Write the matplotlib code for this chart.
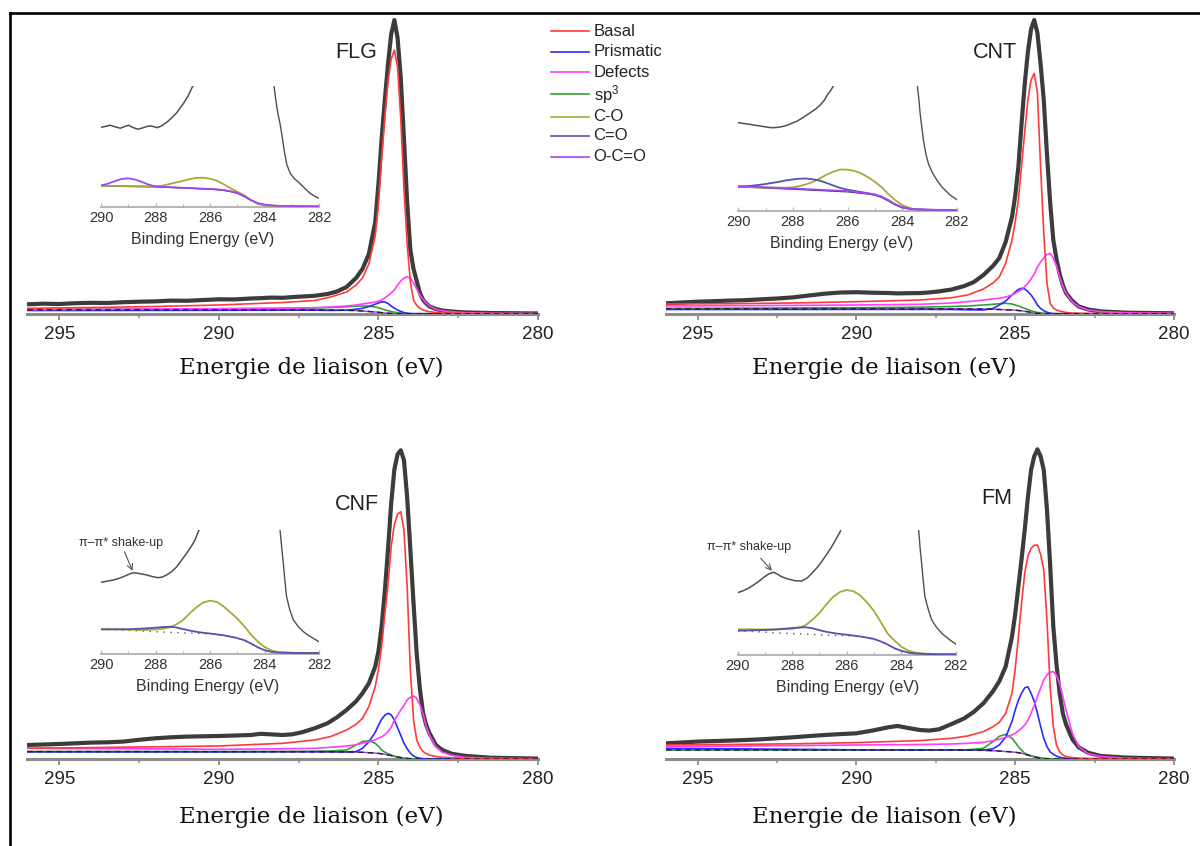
import matplotlib
matplotlib.use('Agg')
import matplotlib.pyplot as plt
from matplotlib.lines import Line2D

plt.rcParams['font.family'] = ['Liberation Sans', 'DejaVu Sans']
plt.rcParams['mathtext.default'] = 'regular'

# ---------------- data (intensities in arbitrary units) ----------------
# main panels: binding-energy grid for the envelope (measured spectrum)
E_env = [296, 295.5, 295, 294.5, 294, 293.5, 293, 292.5, 292, 291.5, 291, 290.5, 290, 289.5, 289,
         288.7, 288.4, 288, 287.7, 287.4, 287, 286.6, 286.3, 286, 285.7, 285.5, 285.3, 285.1, 285.0,
         284.9, 284.8, 284.7, 284.6, 284.5, 284.4, 284.3, 284.2, 284.1, 284.0, 283.9, 283.8, 283.7,
         283.6, 283.5, 283.4, 283.2, 283.0, 282.7, 282.3, 281.5, 280]
# binding-energy grid for the fitted components
E_comp = [296, 294, 292, 290, 288, 287, 286.5, 286, 285.7, 285.5, 285.3, 285.1, 285.0, 284.9, 284.8,
          284.7, 284.6, 284.5, 284.4, 284.3, 284.2, 284.1, 284.0, 283.9, 283.8, 283.7, 283.6, 283.5,
          283.4, 283.2, 283.0, 282.7, 282.3, 281.5, 280]

flg_env = [9.7, 10.3, 10.0, 10.8, 11.2, 11.0, 11.8, 12.3, 12.6, 13.4, 13.2, 14.0, 14.7, 14.6, 15.5,
           15.8, 16.4, 16.2, 16.9, 17.5, 18.2, 20.0, 22.5, 27.0, 36.0, 45.0, 60.0, 92.0, 130.0,
           175.0, 214.0, 250.0, 280.0, 294.0, 276.0, 236.0, 175.0, 112.0, 64.0, 45.0, 33.0, 21.0,
           14.0, 10.5, 7.5, 5.0, 3.5, 2.5, 1.6, 1.0, 0.5]
flg_basal = [5.7, 6.5, 7.5, 9.0, 11.5, 13.5, 17.0, 22.0, 29.0, 36.0, 50.0, 78.0, 110.0, 155.0, 197.0,
             232.0, 255.0, 264.0, 247.0, 195.0, 125.0, 70.0, 32.0, 14.0, 8.5, 5.7, 4.0, 3.0,
             2.3, 1.5, 1.0, 0.8, 0.6, 0.4, 0.3]
flg_prism = [3.5, 3.5, 3.6, 3.7, 3.8, 3.8, 3.6, 3.8, 4.8, 5.7, 7.5, 9.8, 11.0, 12.2, 12.0,
             10.5, 8.0, 5.8, 4.0, 2.6, 1.4, 0.8, 0.4, 0.3, 0.3, 0.3, 0.3, 0.3,
             0.3, 0.3, 0.3, 0.3, 0.3, 0.3, 0.3]
flg_defect = [4.5, 4.7, 5.0, 5.3, 5.8, 6.3, 7.0, 8.0, 9.0, 10.0, 11.0, 12.0, 12.8, 14.0, 16.0,
              18.5, 21.0, 24.0, 29.0, 33.0, 36.0, 37.3, 36.0, 31.0, 25.0, 19.0, 14.5, 10.7,
              8.0, 4.7, 3.2, 2.2, 1.3, 0.7, 0.4]
flg_sp3 = [4.7, 4.8, 5.0, 5.2, 5.6, 6.0, 6.5, 7.2, 7.8, 8.0, 7.8, 7.0, 6.2, 5.2, 4.2,
           3.3, 2.5, 1.8, 1.3, 0.9, 0.6, 0.4, 0.3, 0.3, 0.3, 0.3, 0.3, 0.3,
           0.3, 0.3, 0.3, 0.3, 0.3, 0.3, 0.3]
flg_bg = [4.2, 4.2, 4.2, 4.2, 4.1, 4.0, 3.9, 3.7, 3.4, 3.0, 2.5, 2.0, 1.7, 1.4, 1.1,
          0.8, 0.6, 0.4, 0.3, 0.2, 0.2, 0.2, 0.2, 0.2, 0.2, 0.2, 0.2, 0.2,
          0.2, 0.2, 0.2, 0.2, 0.2, 0.2, 0.2]

cnt_env = [10.7, 11.5, 12.3, 12.8, 13.4, 13.8, 14.7, 15.5, 16.6, 18.5, 20.3, 21.5, 21.8, 21.3, 21.0,
           20.6, 20.8, 20.9, 21.6, 22.6, 24.5, 28.0, 32.0, 39.0, 48.0, 56.0, 72.0, 97.0, 118.0,
           147.0, 190.0, 230.0, 262.0, 285.0, 294.0, 281.0, 250.0, 214.0, 160.0, 112.0, 74.0, 55.0,
           40.0, 29.0, 21.0, 13.0, 7.5, 4.5, 2.6, 1.3, 0.7]
cnt_basal = [10.0, 10.3, 11.0, 12.3, 14.0, 16.3, 19.0, 25.0, 31.0, 37.0, 50.7, 74.0, 92.0, 114.0, 148.0,
             182.0, 214.0, 234.0, 240.7, 221.0, 147.0, 81.0, 31.0, 10.7, 6.0, 4.0, 3.0, 2.2,
             1.5, 1.0, 0.7, 0.5, 0.4, 0.3, 0.3]
cnt_prism = [4.5, 4.5, 4.5, 4.6, 4.6, 4.5, 4.2, 4.0, 5.5, 9.0, 13.0, 19.0, 22.0, 24.5, 25.7,
             25.0, 22.5, 19.0, 14.5, 9.0, 5.5, 3.3, 1.8, 0.8, 0.4, 0.3, 0.3, 0.3,
             0.3, 0.3, 0.3, 0.3, 0.3, 0.3, 0.3]
cnt_defect = [8.0, 8.3, 8.6, 9.0, 9.7, 11.0, 12.3, 14.0, 15.0, 15.7, 17.0, 19.0, 20.7, 22.5, 24.5,
              27.5, 30.7, 35.0, 40.0, 47.0, 52.0, 56.0, 59.5, 60.7, 56.0, 48.0, 37.0, 28.0,
              20.7, 12.0, 7.3, 4.0, 2.3, 1.2, 0.6]
cnt_sp3 = [5.7, 5.8, 6.0, 6.3, 6.8, 7.5, 8.0, 9.0, 9.7, 10.3, 10.7, 10.0, 9.0, 8.0, 6.8,
           5.7, 4.5, 3.3, 2.3, 1.6, 1.1, 0.8, 0.6, 0.5, 0.4, 0.3, 0.3, 0.3,
           0.3, 0.3, 0.3, 0.3, 0.3, 0.3, 0.3]
cnt_bg = [5.2, 5.2, 5.2, 5.2, 5.1, 5.1, 5.0, 5.0, 4.8, 4.5, 4.2, 4.0, 3.8, 3.5, 3.2,
          2.7, 2.2, 1.6, 1.1, 0.7, 0.5, 0.3, 0.2, 0.2, 0.2, 0.2, 0.2, 0.2,
          0.2, 0.2, 0.2, 0.2, 0.2, 0.2, 0.2]

cnf_env = [14.3, 14.8, 15.3, 16.0, 16.7, 17.0, 17.7, 19.5, 21.0, 22.0, 22.7, 23.0, 23.3, 23.8, 24.3,
           25.5, 25.0, 24.3, 25.0, 27.0, 31.0, 36.0, 42.0, 49.3, 58.0, 66.0, 76.0, 92.7, 108.0,
           133.0, 168.0, 210.0, 256.0, 290.0, 305.0, 309.0, 299.0, 262.0, 210.0, 156.0, 105.0, 70.0,
           46.0, 34.0, 26.0, 14.3, 9.3, 5.5, 3.5, 1.6, 0.7]
cnf_basal = [11.0, 11.7, 12.5, 13.3, 16.0, 19.3, 22.7, 29.3, 35.0, 41.0, 52.7, 72.7, 90.0, 112.7, 145.0,
             175.0, 212.7, 235.0, 245.0, 247.7, 229.0, 172.7, 89.0, 39.3, 19.3, 12.0, 7.7, 5.5,
             4.2, 2.8, 2.0, 1.4, 1.0, 0.6, 0.3]
cnf_prism = [7.5, 7.5, 7.5, 7.5, 7.6, 7.6, 7.5, 7.3, 7.7, 11.0, 17.5, 27.0, 34.0, 40.0, 44.0,
             46.0, 44.5, 39.3, 31.5, 24.0, 16.0, 10.5, 6.2, 3.3, 1.8, 1.0, 0.6, 0.3,
             0.3, 0.3, 0.3, 0.3, 0.3, 0.3, 0.3]
cnf_defect = [11.0, 10.7, 10.4, 10.0, 10.5, 11.0, 12.0, 13.3, 14.5, 16.0, 17.7, 19.5, 21.0, 22.5, 24.5,
              27.7, 32.0, 39.3, 44.0, 49.3, 54.0, 59.3, 62.0, 63.3, 61.0, 54.3, 45.0, 32.7,
              24.0, 12.5, 7.0, 4.0, 2.0, 1.0, 0.5]
cnf_sp3 = [7.7, 7.7, 7.7, 7.7, 7.8, 8.0, 8.3, 9.3, 14.3, 17.8, 18.5, 16.0, 13.0, 9.3, 7.2,
           5.5, 4.3, 3.2, 2.3, 1.7, 1.2, 0.9, 0.7, 0.5, 0.4, 0.3, 0.3, 0.3,
           0.3, 0.3, 0.3, 0.3, 0.3, 0.3, 0.3]
cnf_bg = [7.7, 7.7, 7.7, 7.6, 7.6, 7.5, 7.5, 7.4, 7.2, 7.0, 6.6, 6.2, 5.9, 5.5, 5.0,
          4.4, 3.7, 3.0, 2.3, 1.6, 1.1, 0.7, 0.5, 0.3, 0.3, 0.3, 0.3, 0.3,
          0.3, 0.3, 0.3, 0.3, 0.3, 0.3, 0.3]

fm_env = [16.0, 16.8, 17.7, 18.2, 18.7, 19.3, 20.0, 21.0, 22.0, 23.2, 24.3, 25.2, 26.0, 28.7, 32.0,
          33.3, 31.5, 29.3, 28.7, 30.0, 35.3, 41.0, 47.5, 56.0, 68.0, 78.0, 92.7, 122.7, 145.0,
          172.7, 200.0, 229.3, 262.0, 289.3, 303.0, 310.0, 303.0, 289.3, 250.0, 195.0, 132.7, 95.0,
          66.0, 46.0, 35.0, 20.0, 12.0, 6.5, 3.3, 1.7, 0.7]
fm_basal = [14.3, 14.8, 15.5, 16.7, 18.7, 21.0, 23.3, 27.7, 32.5, 37.0, 46.0, 66.0, 90.0, 122.0, 156.0,
            186.0, 203.0, 211.0, 214.0, 214.3, 205.0, 189.3, 139.3, 72.7, 32.7, 14.3, 7.5, 4.3,
            2.8, 1.7, 1.2, 0.8, 0.6, 0.4, 0.3]
fm_prism = [11.0, 10.5, 10.0, 9.5, 9.3, 9.3, 9.3, 9.3, 10.5, 14.3, 22.0, 38.0, 49.3, 59.0, 66.0,
            71.5, 72.5, 66.0, 58.0, 46.0, 33.0, 21.0, 12.7, 7.5, 5.0, 3.2, 2.0, 1.4,
            1.0, 0.7, 0.4, 0.3, 0.3, 0.3, 0.3]
fm_defect = [12.7, 13.2, 13.7, 14.3, 14.8, 15.3, 16.0, 17.0, 18.5, 20.0, 22.0, 24.5, 26.0, 28.5, 31.0,
             34.3, 39.0, 46.0, 54.0, 62.7, 71.0, 79.3, 84.5, 87.0, 87.7, 84.0, 76.0, 63.0,
             49.3, 26.0, 12.7, 5.5, 2.7, 1.0, 0.3]
fm_sp3 = [9.3, 9.3, 9.3, 9.3, 9.3, 9.3, 9.5, 11.0, 17.7, 23.0, 25.0, 21.0, 17.0, 12.7, 9.0,
          6.0, 4.5, 3.5, 2.7, 2.0, 1.4, 1.0, 0.7, 0.5, 0.3, 0.3, 0.3, 0.3,
          0.3, 0.3, 0.3, 0.3, 0.3, 0.3, 0.3]
fm_bg = [9.3, 9.3, 9.3, 9.3, 9.2, 9.1, 9.1, 9.0, 8.6, 8.2, 7.8, 7.3, 7.0, 6.6, 6.0,
         5.2, 4.3, 3.3, 2.4, 1.7, 1.1, 0.7, 0.5, 0.3, 0.3, 0.3, 0.3, 0.3,
         0.3, 0.3, 0.3, 0.3, 0.3, 0.3, 0.3]

# insets: component grid
E_ins = [290, 289.75, 289.5, 289.25, 289, 288.75, 288.5, 288.25, 288, 287.75, 287.5, 287.25, 287,
         286.75, 286.5, 286.25, 286, 285.75, 285.5, 285.25, 285, 284.75, 284.5, 284.25, 284,
         283.75, 283.5, 283, 282.5, 282]

flg_i_bg = [21.0, 20.9, 20.8, 20.6, 20.4, 20.3, 20.2, 20.1, 20.0, 19.7, 19.4, 19.1, 18.8, 18.5, 18.2,
            17.9, 17.6, 17.2, 16.5, 15.3, 13.6, 10.5, 6.5, 3.5, 1.9, 1.2, 0.8, 0.5, 0.3, 0.2]
flg_i_oco = [21.2, 23.0, 25.5, 27.6, 28.4, 27.2, 24.8, 22.0, 20.4, 19.8, 19.5, 19.2, 18.9, 18.6, 18.3,
             18.0, 17.7, 17.3, 16.6, 15.4, 13.7, 10.6, 6.6, 3.6, 2.0, 1.3, 0.9, 0.6, 0.4, 0.3]
flg_i_co = [21.0, 20.9, 20.8, 20.6, 20.4, 20.3, 20.2, 20.1, 20.2, 21.0, 22.6, 24.2, 25.7, 27.5, 28.8,
            29.0, 28.0, 26.0, 22.5, 18.5, 15.0, 11.5, 6.8, 2.8, 1.4, 0.9, 0.6, 0.4, 0.3, 0.2]
flg_iL_E = [290, 289.8, 289.66, 289.5, 289.29, 289.15, 288.99, 288.85, 288.66, 288.5, 288.35, 288.19,
            288.05, 287.95, 287.8, 287.58, 287.4, 287.22, 287.1, 286.97, 286.8, 286.63]
flg_iL_I = [79.4, 80.5, 81.5, 80.0, 78.5, 80.0, 81.5, 79.5, 77.5, 78.5, 80.0, 80.8,
            80.0, 79.0, 80.5, 84.5, 89.0, 94.0, 98.5, 103.4, 111.0, 120.7]
flg_iR_E = [283.65, 283.6, 283.55, 283.5, 283.43, 283.35, 283.27, 283.18, 283.05, 282.9, 282.75,
            282.6, 282.45, 282.33, 282.15, 282.0]
flg_iR_I = [120.7, 110.0, 100.0, 92.0, 83.0, 70.0, 55.0, 42.0, 33.0, 28.0, 24.5, 20.5, 16.5, 13.5,
            10.3, 8.4]

cnt_i_bg = [24.0, 23.7, 23.4, 23.1, 22.8, 22.5, 22.2, 21.9, 21.7, 21.3, 21.0, 20.6, 20.3, 20.0, 19.6,
            19.3, 19.0, 18.3, 17.6, 16.8, 15.7, 13.5, 10.0, 6.0, 3.3, 2.0, 1.3, 0.9, 0.7, 0.7]
cnt_i_oco = [24.6, 24.3, 24.0, 23.7, 23.4, 23.1, 22.8, 22.5, 22.3, 21.9, 21.6, 21.2, 20.9, 20.6, 20.2,
             19.9, 19.6, 18.9, 18.2, 17.4, 16.3, 14.1, 10.6, 6.4, 3.6, 2.2, 1.4, 1.0, 0.8, 0.8]
cnt_i_cdo = [24.0, 24.4, 25.0, 25.8, 26.7, 27.8, 29.0, 30.3, 31.3, 32.0, 32.2, 31.3, 30.0, 27.5, 25.0,
             22.6, 21.0, 19.8, 18.6, 17.4, 16.0, 13.7, 10.2, 6.2, 3.4, 2.0, 1.3, 0.9, 0.7, 0.7]
cnt_i_co = [24.0, 23.8, 23.6, 23.4, 23.2, 23.1, 23.0, 23.0, 23.3, 24.7, 26.5, 29.0, 32.5, 36.3, 39.3,
            41.2, 41.0, 39.8, 37.3, 33.5, 29.0, 23.5, 16.5, 10.5, 5.8, 2.8, 1.3, 0.8, 0.7, 0.7]
cnt_iL_E = [290, 289.8, 289.57, 289.4, 289.2, 289.0, 288.78, 288.6, 288.41, 288.2, 288.05, 287.85,
            287.68, 287.5, 287.31, 287.15, 287.0, 286.85, 286.74, 286.62, 286.52]
cnt_iL_I = [88.0, 87.2, 86.3, 85.5, 84.7, 83.8, 83.0, 83.2, 84.0, 85.5, 87.3, 89.5,
            92.3, 95.5, 99.0, 102.0, 105.7, 110.5, 115.7, 120.0, 124.7]
cnt_iR_E = [283.44, 283.38, 283.34, 283.28, 283.22, 283.13, 283.04, 282.9, 282.73, 282.55, 282.37,
            282.2, 282.0]
cnt_iR_I = [124.7, 110.0, 97.3, 84.0, 70.7, 57.0, 47.3, 38.5, 30.7, 24.0, 19.0, 14.8, 11.3]

cnf_i_bg = [24.7, 24.5, 24.2, 23.9, 23.6, 23.3, 23.0, 22.6, 22.3, 22.0, 21.7, 21.4, 21.1, 20.9, 20.7,
            20.4, 20.1, 19.5, 18.6, 17.3, 15.8, 13.8, 10.5, 6.8, 3.8, 2.2, 1.4, 1.1, 1.0, 1.0]
cnf_i_cdo = [24.7, 24.7, 24.7, 24.7, 24.7, 25.0, 25.4, 25.8, 26.3, 26.9, 27.3, 26.6, 25.0, 23.5, 22.2,
             21.2, 20.5, 19.6, 18.7, 17.4, 15.9, 13.9, 10.5, 6.8, 3.8, 2.2, 1.4, 1.1, 1.0, 1.0]
cnf_i_co = [24.7, 24.7, 24.7, 24.7, 24.5, 24.2, 24.0, 24.2, 24.6, 25.2, 26.5, 29.3, 33.7, 40.5, 46.7,
            51.5, 53.3, 52.2, 47.5, 41.5, 35.5, 28.0, 19.5, 12.5, 7.0, 3.6, 2.0, 1.2, 1.0, 1.0]
cnf_iL_E = [290, 289.8, 289.55, 289.35, 289.18, 289.0, 288.81, 288.6, 288.32, 288.1, 287.9, 287.75,
            287.59, 287.4, 287.22, 287.05, 286.86, 286.7, 286.55, 286.43, 286.4]
cnf_iL_I = [71.7, 72.7, 74.0, 75.5, 77.3, 79.5, 81.3, 80.5, 79.0, 77.3, 76.3, 77.0,
            79.0, 82.5, 87.3, 93.5, 100.7, 107.0, 114.0, 122.3, 124.0]
cnf_iR_E = [283.43, 283.37, 283.31, 283.25, 283.19, 283.07, 282.94, 282.75, 282.57, 282.4, 282.21, 282.0]
cnf_iR_I = [124.0, 107.0, 90.7, 73.0, 57.3, 44.0, 34.0, 27.0, 22.3, 18.7, 15.7, 12.3]

fm_i_bg = [24.3, 24.0, 23.6, 23.2, 22.8, 22.4, 22.0, 21.7, 21.4, 21.1, 20.8, 20.5, 20.2, 19.9, 19.7,
           19.5, 19.3, 18.8, 18.1, 17.1, 15.8, 13.5, 10.4, 6.7, 4.1, 2.4, 1.5, 0.9, 0.7, 0.7]
fm_i_cdo = [24.3, 24.4, 24.6, 24.8, 25.0, 25.3, 25.8, 26.4, 27.0, 27.5, 27.7, 26.7, 24.8, 23.2, 22.0,
            21.0, 20.3, 19.4, 18.5, 17.4, 16.0, 13.6, 10.5, 6.8, 4.2, 2.5, 1.5, 0.9, 0.7, 0.7]
fm_i_co = [25.7, 25.7, 25.7, 25.6, 25.6, 25.6, 25.6, 25.8, 26.2, 27.3, 30.0, 35.5, 42.0, 50.5, 58.0,
           63.0, 65.0, 63.7, 59.5, 52.5, 44.0, 33.0, 21.5, 14.5, 8.5, 4.5, 2.5, 1.0, 0.7, 0.7]
fm_iL_E = [290, 289.8, 289.61, 289.42, 289.24, 289.05, 288.87, 288.69, 288.55, 288.39, 288.15, 287.9,
           287.65, 287.45, 287.28, 287.1, 286.92, 286.75, 286.55, 286.4, 286.24, 286.22]
fm_iL_I = [62.3, 64.3, 66.7, 70.0, 73.3, 77.5, 81.0, 82.7, 81.0, 78.3, 76.0, 74.3,
           74.0, 77.0, 81.7, 87.0, 93.3, 100.0, 108.3, 115.5, 123.3, 125.0]
fm_iR_E = [283.36, 283.3, 283.25, 283.19, 283.13, 283.0, 282.88, 282.7, 282.51, 282.35, 282.21, 282.0]
fm_iR_I = [125.0, 105.0, 91.7, 74.0, 58.3, 45.0, 35.0, 27.5, 21.7, 18.0, 15.0, 11.0]

main_ticks = [295, 290, 285, 280]
inset_ticks = [290, 288, 286, 284, 282]
legend_labels = ['Basal', 'Prismatic', 'Defects', 'sp$^3$', 'C-O', 'C=O', 'O-C=O']
sample_names = ['FLG', 'CNT', 'CNF', 'FM']

# ---------------- style ----------------
C_BASAL, C_PRISM, C_DEF, C_SP3 = '#ff3a3a', '#2b2bff', '#ff3cff', '#33a033'
C_CO, C_CDO, C_OCO = '#a8a838', '#5454b0', '#a545f5'
C_ENV = '#3c3c3c'
legend_colors = [C_BASAL, C_PRISM, C_DEF, C_SP3, C_CO, C_CDO, C_OCO]

W, H = 1200, 846
fig = plt.figure(figsize=(12, 8.46), dpi=100)


def px_axes(x0, x1, ybot, h):
    return fig.add_axes([x0 / W, 1 - ybot / H, (x1 - x0) / W, h / H])


def style_bottom_only(ax, color, lw):
    for s in ['top', 'left', 'right']:
        ax.spines[s].set_visible(False)
    ax.spines['bottom'].set_color(color)
    ax.spines['bottom'].set_linewidth(lw)
    ax.set_yticks([])
    ax.patch.set_alpha(0)


panels = [
    dict(x0=27.4, x1=538.0, yb=314.0, h=300.0, env=flg_env, basal=flg_basal, prism=flg_prism,
         defect=flg_defect, sp3=flg_sp3, bg=flg_bg, title=(356, 53), xlab=(311, 368)),
    dict(x0=665.8, x1=1174.0, yb=314.0, h=300.0, env=cnt_env, basal=cnt_basal, prism=cnt_prism,
         defect=cnt_defect, sp3=cnt_sp3, bg=cnt_bg, title=(995, 53), xlab=(884, 368)),
    dict(x0=27.4, x1=538.0, yb=759.3, h=320.0, env=cnf_env, basal=cnf_basal, prism=cnf_prism,
         defect=cnf_defect, sp3=cnf_sp3, bg=cnf_bg, title=(356.5, 504), xlab=(311, 816.7)),
    dict(x0=665.8, x1=1174.0, yb=759.3, h=320.0, env=fm_env, basal=fm_basal, prism=fm_prism,
         defect=fm_defect, sp3=fm_sp3, bg=fm_bg, title=(997, 498), xlab=(884, 816.7)),
]

for name, p in zip(sample_names, panels):
    ax = px_axes(p['x0'], p['x1'], p['yb'], p['h'])
    ax.set_xlim(296, 280)
    ax.set_ylim(0, p['h'])
    style_bottom_only(ax, '#8c8c8c', 2.2)
    ax.set_xticks(main_ticks)
    ax.set_xticks([292.5, 287.5, 282.5], minor=True)
    ax.tick_params(axis='x', which='major', length=4.5, width=1.3, color='#8c8c8c',
                   labelsize=13.5, labelcolor='#222222', pad=3.8)
    ax.tick_params(axis='x', which='minor', length=3, width=1.1, color='#8c8c8c')
    ax.plot(E_env, p['env'], color=C_ENV, lw=3.0, solid_capstyle='round', zorder=2)
    ax.plot(E_comp, p['bg'], color=C_OCO, lw=1.1, zorder=3)
    ax.plot(E_comp, p['sp3'], color=C_SP3, lw=1.2, zorder=4)
    ax.plot(E_comp, p['prism'], color=C_PRISM, lw=1.2, zorder=5)
    ax.plot(E_comp, p['defect'], color=C_DEF, lw=1.2, zorder=6)
    ax.plot(E_comp, p['basal'], color=C_BASAL, lw=1.2, zorder=7)
    ax.plot(E_comp, p['bg'], color='#222222', lw=1.0, ls=(0, (4, 3)), zorder=8)
    fig.text(p['title'][0] / W, 1 - p['title'][1] / H, name, fontsize=15.5, color='#222222',
             ha='center', va='center')
    fig.text(p['xlab'][0] / W, 1 - p['xlab'][1] / H, 'Energie de liaison (eV)',
             family=['DejaVu Serif'], fontsize=16.5, color='#111111', ha='center', va='center')

insets = [
    dict(x0=101.0, x1=319.0, yb=206.7, top=120.7, bg=flg_i_bg, co=flg_i_co, cdo=None, oco=flg_i_oco,
         L=(flg_iL_E, flg_iL_I), R=(flg_iR_E, flg_iR_I), lab=203, dotted=False, shake=None),
    dict(x0=738.3, x1=956.7, yb=210.7, top=124.7, bg=cnt_i_bg, co=cnt_i_co, cdo=cnt_i_cdo, oco=cnt_i_oco,
         L=(cnt_iL_E, cnt_iL_I), R=(cnt_iR_E, cnt_iR_I), lab=842, dotted=False, shake=None),
    dict(x0=101.0, x1=319.0, yb=654.0, top=124.0, bg=cnf_i_bg, co=cnf_i_co, cdo=cnf_i_cdo, oco=None,
         L=(cnf_iL_E, cnf_iL_I), R=(cnf_iR_E, cnf_iR_I), lab=207.6, dotted=True,
         shake=dict(text=(121.5, 543), tail=(124.4, 551.7), head=(288.81, 81.3))),
    dict(x0=737.7, x1=955.7, yb=655.0, top=125.0, bg=fm_i_bg, co=fm_i_co, cdo=fm_i_cdo, oco=None,
         L=(fm_iL_E, fm_iL_I), R=(fm_iR_E, fm_iR_I), lab=848, dotted=True,
         shake=dict(text=(749, 547.3), tail=(760.7, 558.3), head=(288.69, 82.7))),
]

for q in insets:
    ax = px_axes(q['x0'], q['x1'], q['yb'], q['top'])
    ax.set_xlim(290, 282)
    ax.set_ylim(0, q['top'])
    style_bottom_only(ax, '#b4b4b4', 1.4)
    ax.set_xticks(inset_ticks)
    ax.set_xticks([289, 287, 285, 283], minor=True)
    ax.tick_params(axis='x', which='major', direction='in', length=3, width=0.9, color='#b4b4b4',
                   labelsize=10.5, labelcolor='#333333', pad=3.0)
    ax.tick_params(axis='x', which='minor', direction='in', length=2, width=0.8, color='#b4b4b4')
    if q['dotted']:
        ax.plot(E_ins, q['bg'], color='#555555', lw=1.0, ls=(0, (1, 4)), zorder=2)
    else:
        ax.plot(E_ins, q['bg'], color='#2c2c5c', lw=1.1, zorder=2)
    ax.plot(E_ins, q['co'], color=C_CO, lw=1.3, zorder=3)
    if q['cdo'] is not None:
        ax.plot(E_ins, q['cdo'], color=C_CDO, lw=1.3, zorder=4)
    if q['oco'] is not None:
        ax.plot(E_ins, q['oco'], color=C_OCO, lw=1.3, zorder=5)
    ax.plot(q['L'][0], q['L'][1], color='#505050', lw=1.1, zorder=6)
    ax.plot(q['R'][0], q['R'][1], color='#505050', lw=1.0, zorder=6)
    cx = q['lab']
    fig.text(cx / W, 1 - (q['yb'] + 32.6) / H, 'Binding Energy (eV)', fontsize=11.5,
             color='#333333', ha='center', va='center')
    if q['shake'] is not None:
        s = q['shake']
        fig.text(s['text'][0] / W, 1 - s['text'][1] / H, '\u03c0\u2013\u03c0* shake-up',
                 fontsize=9, color='#333333', ha='center', va='center')
        ax.annotate('', xy=s['head'], xycoords='data',
                    xytext=(s['tail'][0], H - s['tail'][1]), textcoords='figure pixels',
                    arrowprops=dict(arrowstyle='->', color='#555555', lw=0.8,
                                    shrinkA=0, shrinkB=1.5),
                    annotation_clip=False)

# legend (drawn manually in figure pixels)
leg_rows = [31, 51.7, 72.3, 94.5, 116.7, 136, 156.7]
for lab, col, yy in zip(legend_labels, legend_colors, leg_rows):
    fig.add_artist(Line2D([551 / W, 589 / W], [1 - yy / H, 1 - yy / H], color=col, lw=1.2,
                          transform=fig.transFigure))
    fig.text(593.5 / W, 1 - yy / H, lab, fontsize=12, color='#222222', ha='left', va='center')

# outer frame (left and top edges)
fig.add_artist(Line2D([9.5 / W, 9.5 / W], [0, 1 - 13.5 / H], color='black', lw=1.9,
                      transform=fig.transFigure))
fig.add_artist(Line2D([9.5 / W, 1.0], [1 - 13.5 / H, 1 - 13.5 / H], color='black', lw=1.9,
                      transform=fig.transFigure))

fig.savefig('out.png', dpi=100)
